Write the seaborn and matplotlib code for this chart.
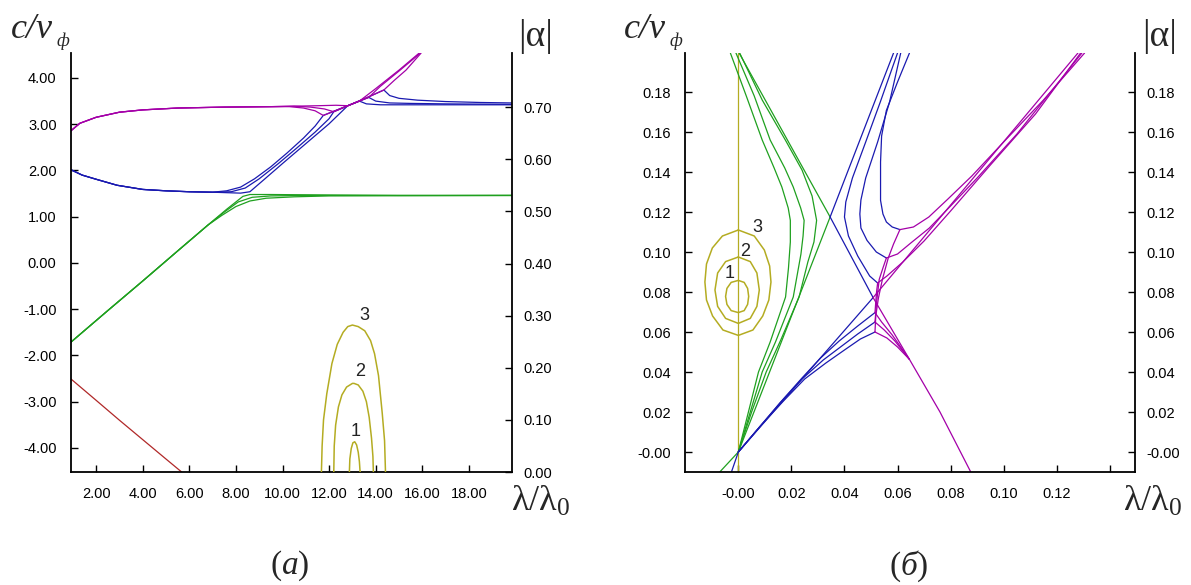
import matplotlib
matplotlib.use("Agg")
import matplotlib.pyplot as plt
import seaborn as sns

MAG = "#a400a8"
BLU = "#1a1ab0"
GRN = "#1fa01f"
RED = "#b02828"
YEL = "#b4ac22"

# ---------------- panel (a) ----------------
# magenta, common left part
a_mag_x = [0.9, 1.3, 2.0, 3.0, 4.0, 5.5, 7.5, 9.5]
a_mag_y = [2.85, 3.02, 3.15, 3.26, 3.31, 3.35, 3.37, 3.38]
# blue, common left part
a_blu_x = [0.9, 1.4, 2.0, 2.9, 4.0, 5.0, 6.0, 7.0]
a_blu_y = [2.02, 1.90, 1.81, 1.68, 1.59, 1.56, 1.54, 1.53]

# set 3
a_mag3_x = [10.3, 10.9, 11.4, 11.75]
a_mag3_y = [3.38, 3.35, 3.29, 3.19]
a_mrg3_x = [11.75, 12.3, 12.9, 13.6, 14.35]
a_mrg3_y = [3.19, 3.30, 3.42, 3.57, 3.74]
a_mag3r_x = [14.35, 14.8, 15.3, 15.95]
a_mag3r_y = [3.74, 3.95, 4.17, 4.54]
a_blu3_x = [7.6, 8.2, 8.8, 9.5, 10.2, 10.9, 11.4, 11.75]
a_blu3_y = [1.56, 1.64, 1.82, 2.08, 2.38, 2.70, 2.96, 3.19]
a_blu3r_x = [14.35, 14.6, 15.0, 15.8, 17.0, 18.5, 19.85]
a_blu3r_y = [3.74, 3.62, 3.56, 3.52, 3.49, 3.47, 3.46]

# set 2
a_mag2_x = [10.5, 11.2, 11.8, 12.2]
a_mag2_y = [3.39, 3.37, 3.33, 3.27]
a_mrg2_x = [12.2, 12.9, 13.7]
a_mrg2_y = [3.27, 3.42, 3.58]
a_mag2r_x = [13.7, 14.2, 15.0, 15.92]
a_mag2r_y = [3.58, 3.82, 4.15, 4.54]
a_blu2_x = [7.8, 8.4, 9.0, 9.8, 10.6, 11.4, 12.0, 12.2]
a_blu2_y = [1.54, 1.62, 1.82, 2.14, 2.48, 2.83, 3.12, 3.27]
a_blu2r_x = [13.7, 14.0, 14.6, 15.5, 17.0, 19.85]
a_blu2r_y = [3.58, 3.50, 3.46, 3.45, 3.44, 3.43]

# set 1
a_mag1_x = [11.5, 12.3, 12.8]
a_mag1_y = [3.40, 3.41, 3.40]
a_mrg1_x = [12.8, 13.3]
a_mrg1_y = [3.40, 3.50]
a_mag1r_x = [13.3, 14.0, 15.0, 15.87]
a_mag1r_y = [3.50, 3.77, 4.17, 4.54]
a_blu1_x = [7.6, 8.2, 8.6, 9.2, 10.0, 11.0, 12.0, 12.8]
a_blu1_y = [1.52, 1.51, 1.54, 1.80, 2.15, 2.58, 3.01, 3.40]
a_blu1r_x = [13.3, 13.6, 14.2, 16.0, 19.85]
a_blu1r_y = [3.50, 3.44, 3.42, 3.42, 3.42]

# green
a_grn_x = [0.9, 2.5, 4.0, 5.5, 6.8]
a_grn_y = [-1.72, -1.03, -0.39, 0.26, 0.82]
a_grn1_x = [6.8, 7.6, 8.3, 8.6, 9.5, 12.0, 15.0, 19.85]
a_grn1_y = [0.82, 1.16, 1.44, 1.48, 1.48, 1.47, 1.46, 1.46]
a_grn2_x = [6.8, 7.5, 8.1, 8.7, 9.5, 11.0, 14.0, 19.85]
a_grn2_y = [0.82, 1.10, 1.32, 1.42, 1.45, 1.46, 1.46, 1.46]
a_grn3_x = [6.8, 7.4, 8.0, 8.6, 9.3, 10.5, 12.0, 19.85]
a_grn3_y = [0.80, 1.03, 1.22, 1.34, 1.40, 1.43, 1.45, 1.46]

# red
a_red_x = [0.9, 2.0, 3.0, 4.0, 5.0, 5.67]
a_red_y = [-2.50, -2.97, -3.40, -3.82, -4.24, -4.52]

# |alpha| arches (right axis)
a_arc3_x = [11.67, 11.70, 11.76, 11.9, 12.12, 12.35, 12.6, 12.8, 13.0, 13.25,
            13.53, 13.78, 13.95, 14.12, 14.28, 14.38, 14.42]
a_arc3_y = [0.0, 0.05, 0.10, 0.15, 0.208, 0.245, 0.268, 0.279, 0.282, 0.279,
            0.271, 0.252, 0.227, 0.185, 0.113, 0.06, 0.0]
a_arc2_x = [12.2, 12.22, 12.28, 12.4, 12.55, 12.75, 13.0, 13.07, 13.25, 13.45,
            13.6, 13.72, 13.82, 13.88, 13.9]
a_arc2_y = [0.0, 0.05, 0.09, 0.125, 0.148, 0.163, 0.170, 0.170, 0.167, 0.155,
            0.135, 0.105, 0.065, 0.03, 0.0]
a_arc1_x = [12.87, 12.89, 12.95, 13.02, 13.1, 13.18, 13.25, 13.3, 13.33]
a_arc1_y = [0.0, 0.025, 0.045, 0.056, 0.058, 0.052, 0.038, 0.02, 0.0]
a_num_x = [13.12, 13.33, 13.53]
a_num_y = [0.078, 0.192, 0.300]
a_num_txt = ["1", "2", "3"]

a_xticks = [2, 4, 6, 8, 10, 12, 14, 16, 18]
a_yticks = [-4, -3, -2, -1, 0, 1, 2, 3, 4]
a_rticks = [0.0, 0.1, 0.2, 0.3, 0.4, 0.5, 0.6, 0.7]

# ---------------- panel (б) ----------------
b_yel_x = [0.0, 0.0]
b_yel_y = [-0.01, 0.1995]
b_e3_x = [0, 0.006, 0.0098, 0.0118, 0.0123, 0.0115, 0.0092, 0.0055, 0, -0.0058,
          -0.0097, -0.0120, -0.0126, -0.0120, -0.0098, -0.006, 0]
b_e3_y = [0.111, 0.108, 0.101, 0.093, 0.085, 0.076, 0.068, 0.061, 0.0583, 0.061,
          0.068, 0.076, 0.085, 0.094, 0.102, 0.108, 0.111]
b_e2_x = [0, 0.0045, 0.0070, 0.0079, 0.0070, 0.0045, 0, -0.0048, -0.0078,
          -0.0088, -0.0078, -0.0048, 0]
b_e2_y = [0.0975, 0.0952, 0.0895, 0.081, 0.0728, 0.0668, 0.0643, 0.0668, 0.0728,
          0.081, 0.0895, 0.0952, 0.0975]
b_e1_x = [0, 0.0022, 0.0035, 0.0039, 0.0035, 0.0022, 0, -0.0027, -0.0043,
          -0.0048, -0.0043, -0.0027, 0]
b_e1_y = [0.0858, 0.0848, 0.0818, 0.0778, 0.0738, 0.0707, 0.0697, 0.0707, 0.0738,
          0.0778, 0.0818, 0.0848, 0.0858]
b_num_x = [-0.0033, 0.0026, 0.0072]
b_num_y = [0.089, 0.1005, 0.112]
b_num_txt = ["1", "2", "3"]

# green
b_grnA_x = [-0.007, 0.0, 0.0346]
b_grnA_y = [-0.01, 0.0, 0.1175]
b_grnB_x = [0.0003, 0.0346]
b_grnB_y = [0.1995, 0.1175]
b_g1_x = [0.0005, 0.009, 0.0178, 0.0240, 0.0278, 0.0295, 0.0285, 0.0262, 0.0229,
          0.0160, 0.0105, 0.005, 0.0]
b_g1_y = [0.1995, 0.176, 0.1558, 0.141, 0.128, 0.1158, 0.105, 0.095, 0.0775,
          0.056, 0.040, 0.020, 0.0]
b_g2_x = [-0.0009, 0.006, 0.012, 0.0175, 0.0207, 0.0235, 0.0248, 0.0244, 0.0236,
          0.0207, 0.014, 0.009, 0.0045, 0.0]
b_g2_y = [0.1995, 0.178, 0.156, 0.142, 0.1325, 0.122, 0.1158, 0.108, 0.099,
          0.0775, 0.055, 0.040, 0.020, 0.0]
b_g3_x = [-0.003, 0.003, 0.009, 0.0135, 0.0164, 0.0188, 0.0196, 0.0196, 0.0189,
          0.0178, 0.012, 0.0076, 0.0038, 0.0]
b_g3_y = [0.1995, 0.178, 0.156, 0.142, 0.1325, 0.122, 0.1158, 0.105, 0.092,
          0.0775, 0.055, 0.040, 0.020, 0.0]

# blue
b_bluA_x = [0.0346, 0.0585]
b_bluA_y = [0.1175, 0.1995]
b_bluB_x = [0.0346, 0.0508]
b_bluB_y = [0.1175, 0.0772]
b_bluC_x = [-0.0026, 0.0, 0.0508]
b_bluC_y = [-0.01, 0.0, 0.0772]
b_bb1_x = [0.0600, 0.0535, 0.048, 0.043, 0.0405, 0.040, 0.0415, 0.045, 0.0495, 0.0525]
b_bb1_y = [0.1995, 0.175, 0.155, 0.137, 0.125, 0.1175, 0.108, 0.098, 0.088, 0.0845]
b_bb2_x = [0.0612, 0.057, 0.0525, 0.048, 0.0462, 0.0458, 0.0462, 0.0485, 0.052, 0.0558]
b_bb2_y = [0.1995, 0.175, 0.155, 0.137, 0.126, 0.119, 0.112, 0.1058, 0.100, 0.097]
b_bb3_x = [0.0645, 0.0600, 0.0558, 0.0540, 0.0536, 0.0536, 0.0545, 0.0558, 0.0580, 0.0609]
b_bb3_y = [0.1995, 0.185, 0.1708, 0.158, 0.145, 0.1258, 0.119, 0.115, 0.1125, 0.1112]
b_bl1_x = [0.0515, 0.045, 0.038, 0.031, 0.024, 0.016, 0.008, 0.0]
b_bl1_y = [0.0697, 0.063, 0.0555, 0.047, 0.037, 0.025, 0.0125, 0.0]
b_bl2_x = [0.0515, 0.045, 0.039, 0.032, 0.024, 0.016, 0.008, 0.0]
b_bl2_y = [0.065, 0.059, 0.053, 0.046, 0.0365, 0.025, 0.0125, 0.0]
b_bl3_x = [0.0515, 0.046, 0.040, 0.033, 0.025, 0.017, 0.008, 0.0]
b_bl3_y = [0.060, 0.0565, 0.051, 0.0445, 0.0365, 0.0255, 0.0125, 0.0]

# magenta
b_magA_x = [0.0508, 0.128]
b_magA_y = [0.0772, 0.1995]
b_magB_x = [0.0508, 0.0645, 0.076, 0.0876]
b_magB_y = [0.0772, 0.0463, 0.020, -0.01]
b_mu1_x = [0.0525, 0.056, 0.062, 0.070, 0.080, 0.095, 0.112, 0.129]
b_mu1_y = [0.0845, 0.088, 0.095, 0.1055, 0.1205, 0.1435, 0.169, 0.1995]
b_mu2_x = [0.0558, 0.060, 0.065, 0.072, 0.080, 0.090, 0.105, 0.1295]
b_mu2_y = [0.097, 0.099, 0.1045, 0.112, 0.123, 0.137, 0.159, 0.1995]
b_mu3_x = [0.0609, 0.0660, 0.0718, 0.079, 0.088, 0.100, 0.115, 0.1305]
b_mu3_y = [0.1112, 0.1125, 0.1175, 0.1265, 0.138, 0.155, 0.176, 0.1995]
b_mv1_x = [0.0525, 0.0521, 0.0518, 0.0515]
b_mv1_y = [0.0845, 0.080, 0.075, 0.0697]
b_mv2_x = [0.0558, 0.0545, 0.0531, 0.0522, 0.0515]
b_mv2_y = [0.097, 0.092, 0.0863, 0.076, 0.065]
b_mv3_x = [0.0609, 0.0585, 0.0565, 0.0543, 0.0528, 0.0518, 0.0515]
b_mv3_y = [0.1112, 0.104, 0.097, 0.0863, 0.077, 0.068, 0.060]
b_ml1_x = [0.0515, 0.054, 0.058, 0.0645]
b_ml1_y = [0.0697, 0.065, 0.0585, 0.0463]
b_ml2_x = [0.0515, 0.055, 0.059, 0.0645]
b_ml2_y = [0.065, 0.061, 0.0555, 0.0463]
b_ml3_x = [0.0515, 0.056, 0.060, 0.0645]
b_ml3_y = [0.060, 0.057, 0.0525, 0.0463]

b_xticks = [0.0, 0.02, 0.04, 0.06, 0.08, 0.10, 0.12, 0.14]
b_xlabels = ["-0.00", "0.02", "0.04", "0.06", "0.08", "0.10", "0.12", ""]
b_yticks = [0.0, 0.02, 0.04, 0.06, 0.08, 0.10, 0.12, 0.14, 0.16, 0.18]
b_ylabels = ["-0.00", "0.02", "0.04", "0.06", "0.08", "0.10", "0.12", "0.14", "0.16", "0.18"]

sns.set_theme(style="white")
plt.rcParams["font.family"] = ["Liberation Sans", "DejaVu Sans"]
plt.rcParams["mathtext.fontset"] = "custom"
plt.rcParams["mathtext.rm"] = "Liberation Serif"
plt.rcParams["mathtext.it"] = "Liberation Serif:italic"

W, H = 1191, 585
fig = plt.figure(figsize=(W / 100, H / 100), dpi=100)


def line(ax, xs, ys, color, lw=0.9):
    sns.lineplot(x=xs, y=ys, ax=ax, color=color, lw=lw, sort=False, estimator=None)


def frame(ax, tw):
    for s in ["top", "right"]:
        ax.spines[s].set_visible(False)
    for s in ["left", "bottom"]:
        ax.spines[s].set_color("black")
        ax.spines[s].set_linewidth(1.3)
    for s in ["top", "left", "bottom"]:
        tw.spines[s].set_visible(False)
    tw.spines["right"].set_color("black")
    tw.spines["right"].set_linewidth(1.3)
    ax.tick_params(axis="y", direction="in", length=5, width=1, pad=10,
                   labelsize=10.5, left=True, right=False, colors="black")
    ax.tick_params(axis="x", direction="in", length=5, width=1, pad=11,
                   labelsize=10.5, bottom=True, colors="black")
    tw.tick_params(axis="y", direction="in", length=5, width=1, pad=8,
                   labelsize=10.5, right=True, left=False, colors="black")
    ax.set_xlabel("")
    ax.set_ylabel("")
    tw.set_ylabel("")
    ax.grid(False)
    tw.grid(False)


# ---- panel (a)
ax = fig.add_axes([70.5 / W, (H - 472) / H, (512 - 70.5) / W, (472 - 53) / H])
tw = ax.twinx()
ax.set_xlim(0.9, 19.85)
ax.set_ylim(-4.52, 4.54)
tw.set_ylim(0, 0.804)

line(ax, a_red_x, a_red_y, RED)
for gx, gy in [(a_grn1_x, a_grn1_y), (a_grn2_x, a_grn2_y), (a_grn3_x, a_grn3_y)]:
    line(ax, a_grn_x + gx[1:], a_grn_y + gy[1:], GRN)

sets_a = [
    (a_blu1_x, a_blu1_y, a_mag1_x, a_mag1_y, a_mrg1_x, a_mrg1_y, a_mag1r_x, a_mag1r_y, a_blu1r_x, a_blu1r_y),
    (a_blu2_x, a_blu2_y, a_mag2_x, a_mag2_y, a_mrg2_x, a_mrg2_y, a_mag2r_x, a_mag2r_y, a_blu2r_x, a_blu2r_y),
    (a_blu3_x, a_blu3_y, a_mag3_x, a_mag3_y, a_mrg3_x, a_mrg3_y, a_mag3r_x, a_mag3r_y, a_blu3r_x, a_blu3r_y),
]
for bx, by, mx, my, rx, ry, mrx, mry, brx, bry in sets_a:
    line(ax, a_blu_x + bx + rx[1:] + brx[1:], a_blu_y + by + ry[1:] + bry[1:], BLU)
for bx, by, mx, my, rx, ry, mrx, mry, brx, bry in sets_a:
    line(ax, a_mag_x + mx + rx[1:] + mrx[1:], a_mag_y + my + ry[1:] + mry[1:], MAG)

for xs, ys in [(a_arc3_x, a_arc3_y), (a_arc2_x, a_arc2_y), (a_arc1_x, a_arc1_y)]:
    line(tw, xs, ys, YEL, lw=1.1)
for x, y, t in zip(a_num_x, a_num_y, a_num_txt):
    tw.text(x, y, t, fontsize=13, ha="center", va="center", color="#222222")

ax.set_xticks(a_xticks)
ax.set_xticklabels([f"{v:.2f}" for v in a_xticks])
ax.set_yticks(a_yticks)
ax.set_yticklabels([f"{v:.2f}" for v in a_yticks])
tw.set_yticks(a_rticks)
tw.set_yticklabels([f"{v:.2f}" for v in a_rticks])
frame(ax, tw)

# ---- panel (б)
bx_ = fig.add_axes([685 / W, (H - 472) / H, 450 / W, (472 - 53) / H])
bt = bx_.twinx()
bx_.set_xlim(-0.0201, 0.1495)
bx_.set_ylim(-0.01, 0.1995)
bt.set_ylim(-0.01, 0.1995)

line(bx_, b_yel_x, b_yel_y, YEL)
for xs, ys in [(b_e3_x, b_e3_y), (b_e2_x, b_e2_y), (b_e1_x, b_e1_y)]:
    line(bx_, xs, ys, YEL, lw=1.1)
for xs, ys in [(b_grnA_x, b_grnA_y), (b_grnB_x, b_grnB_y), (b_g1_x, b_g1_y),
               (b_g2_x, b_g2_y), (b_g3_x, b_g3_y)]:
    line(bx_, xs, ys, GRN)
for xs, ys in [(b_bluA_x, b_bluA_y), (b_bluB_x, b_bluB_y), (b_bluC_x, b_bluC_y),
               (b_bb1_x, b_bb1_y), (b_bb2_x, b_bb2_y), (b_bb3_x, b_bb3_y),
               (b_bl1_x, b_bl1_y), (b_bl2_x, b_bl2_y), (b_bl3_x, b_bl3_y)]:
    line(bx_, xs, ys, BLU)
for xs, ys in [(b_magA_x, b_magA_y), (b_magB_x, b_magB_y), (b_mu1_x, b_mu1_y),
               (b_mu2_x, b_mu2_y), (b_mu3_x, b_mu3_y), (b_mv1_x, b_mv1_y),
               (b_mv2_x, b_mv2_y), (b_mv3_x, b_mv3_y), (b_ml1_x, b_ml1_y),
               (b_ml2_x, b_ml2_y), (b_ml3_x, b_ml3_y)]:
    line(bx_, xs, ys, MAG)
for x, y, t in zip(b_num_x, b_num_y, b_num_txt):
    bx_.text(x, y, t, fontsize=13, ha="center", va="center", color="#222222")

bx_.set_xticks(b_xticks)
bx_.set_xticklabels(b_xlabels)
bx_.set_yticks(b_yticks)
bx_.set_yticklabels(b_ylabels)
bt.set_yticks(b_yticks)
bt.set_yticklabels(b_ylabels)
frame(bx_, bt)

# ---- axis titles and panel letters
serif = "Liberation Serif"
for x0 in [11, 624]:
    fig.text(x0 / W, 1 - 38 / H, "c/v", family=serif, style="italic", fontsize=26,
             ha="left", va="baseline")
    fig.text((x0 + 46) / W, 1 - 46 / H, "ф", family=serif, style="italic", fontsize=13,
             ha="left", va="baseline")
for xc in [536, 1160]:
    fig.text(xc / W, 1 - 36 / H, "|α|", family=serif, fontsize=27, ha="center", va="center")
for xc in [541, 1153]:
    fig.text(xc / W, 1 - 502 / H, "λ/λ$_0$", family=serif, fontsize=26,
             ha="center", va="center")
fig.text(290 / W, 1 - 566 / H, "($\\mathit{a}$)", family=serif, fontsize=24,
         ha="center", va="center")
fig.text(909 / W, 1 - 566 / H, "($\\mathit{б}$)", family=serif, fontsize=24,
         ha="center", va="center")

fig.savefig("out.png", dpi=100)
